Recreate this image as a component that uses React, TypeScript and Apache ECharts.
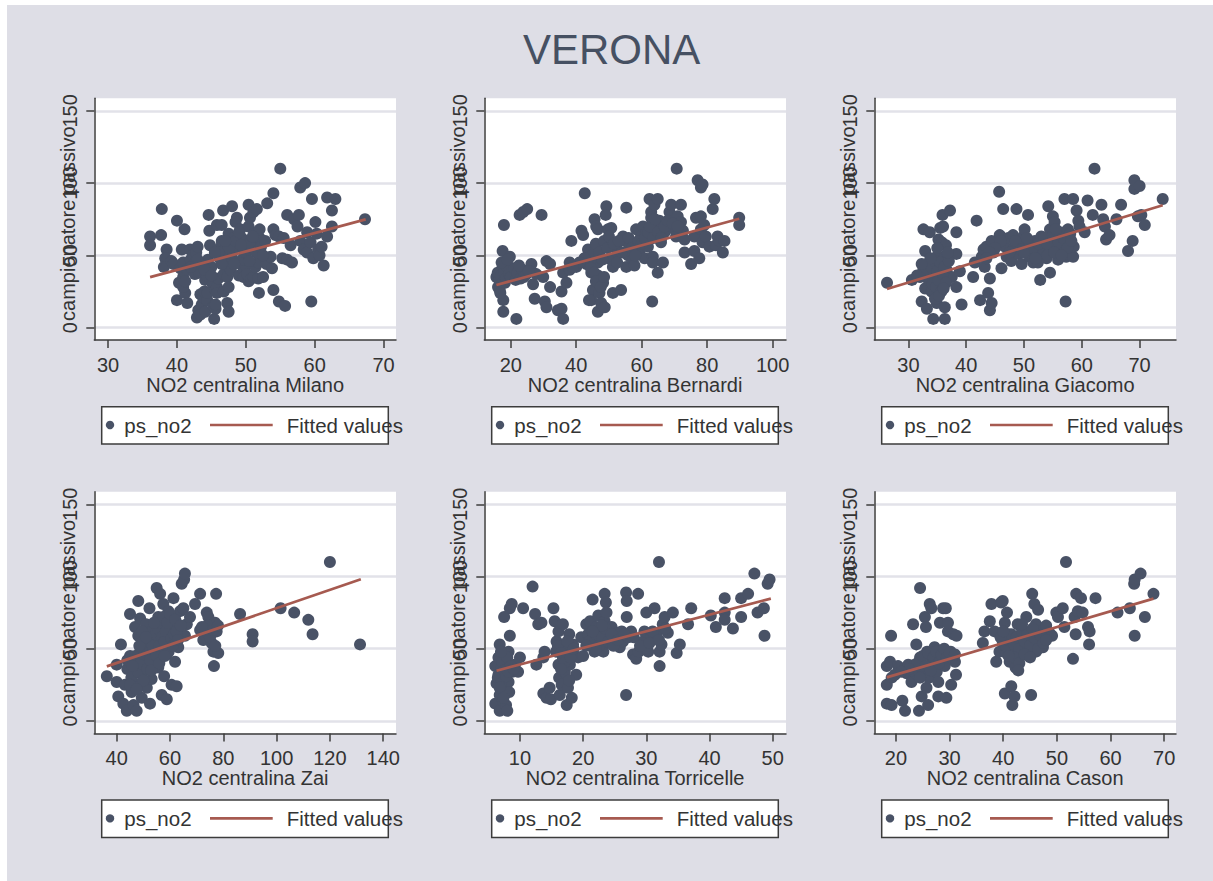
import React, { useEffect, useRef } from "react";
import * as echarts from "echarts";

const CHART_TITLE = "VERONA";
const Y_TITLE = "campionatore passivo";
const POINTS_LABEL = "ps_no2";
const FIT_LABEL = "Fitted values";
const Y_TICKS = [0, 50, 100, 150];

const X_TITLES = [
  "NO2 centralina Milano",
  "NO2 centralina Bernardi",
  "NO2 centralina Giacomo",
  "NO2 centralina Zai",
  "NO2 centralina Torricelle",
  "NO2 centralina Cason",
];

const X_TICKS_MILANO = [30, 40, 50, 60, 70];
const X_TICKS_BERNARDI = [20, 40, 60, 80, 100];
const X_TICKS_GIACOMO = [30, 40, 50, 60, 70];
const X_TICKS_ZAI = [40, 60, 80, 100, 120, 140];
const X_TICKS_TORRICELLE = [10, 20, 30, 40, 50];
const X_TICKS_CASON = [20, 30, 40, 50, 60, 70];

// [NO2 centralina, ps_no2]
const MILANO: number[][] = [
  [36.1,63],[36.1,57],[37.7,64],[37.8,82],[38.5,54],[38.3,48],[38.1,42],[39.2,46],[39.5,44],[40.0,74],[40.0,19],[40.3,31],[40.5,41],
  [41.1,68],[40.7,54],[40.9,45],[40.9,35],[41.2,24],[40.9,28],[41.5,40],[41.2,32],[41.5,17],[41.9,54],[42.0,47],[42.3,50],[42.5,44],
  [42.8,52],[43.0,56],[42.6,37],[43.2,38],[43.4,23],[43.1,12],[42.9,7],[43.4,9],[43.6,16],[43.8,21],[44.0,25],[44.1,33],[44.3,36],
  [44.1,11],[44.4,19],[44.4,24],[44.5,47],[44.8,57],[44.7,67],[44.6,78],[45.0,42],[45.2,30],[45.3,15],[45.4,6],[45.6,13],[45.6,26],
  [45.8,28],[45.8,24],[45.6,16],[46.0,34],[46.2,48],[46.4,56],[46.5,60],[46.7,81],[45.8,71],[46.5,71],[46.8,37],[46.8,25],[47.2,46],
  [47.3,35],[47.5,65],[48.0,84],[47.3,17],[47.5,11],[47.5,28],[47.8,40],[48.0,52],[48.2,58],[48.3,62],[48.7,76],[48.5,73],[48.7,56],
  [48.9,45],[49.0,36],[49.2,68],[49.4,62],[49.6,55],[49.8,50],[49.7,40],[49.7,35],[50.0,43],[50.4,32],[50.2,37],[50.4,70],[50.6,76],
  [50.4,85],[50.8,34],[51.0,58],[51.1,80],[51.2,65],[51.6,82],[51.1,35],[51.8,34],[51.4,42],[51.8,45],[52.0,62],[52.2,56],[52.0,68],
  [52.5,35],[51.9,24],[52.8,60],[53.0,44],[53.1,86],[53.8,41],[53.6,49],[54.0,93],[54.0,68],[54.3,64],[54.0,26],[54.8,63],[54.8,18],
  [55.0,110],[55.3,48],[55.5,62],[55.7,15],[56.0,78],[56.0,47],[56.7,45],[56.5,57],[57.0,75],[57.7,78],[57.5,70],[57.9,60],[58.4,54],
  [58.9,52],[58.9,66],[57.9,97],[58.6,100],[59.4,59],[59.5,18],[59.6,89],[59.8,48],[60.1,73],[60.5,54],[60.7,50],[61.0,56],[60.3,65],
  [61.3,43],[61.8,90],[61.8,63],[62.5,81],[62.5,70],[63.0,89],[67.3,75],
  [47.0,50],[47.5,55],[48.0,48],[48.5,60],[49.0,66],[49.5,47],[50.0,52],[50.5,58],[51.0,63],[51.5,52],[52.5,50],[48.3,44],[46.0,52],
  [47.0,60],[49.3,57],[50.5,46],[43.5,44],[44.0,40],[45.0,36],[46.5,44],[45.5,52],[43.0,47],[42.0,42],
];
const FIT_MILANO: number[][] = [[36.1, 34.9], [67.4, 74.9]];

const BERNARDI: number[][] = [
  [15.6,35],[16.1,28],[16.6,26],[17.2,40],[17.5,53],[17.9,71],[17.7,19],[17.7,11],[18.2,31],[18.7,45],[19.7,49],[20.2,40],[20.7,35],
  [21.7,6],[21.7,39],[22.7,38],[22.7,78],[23.8,80],[25.0,82],[24.8,37],[26.3,44],[26.3,39],[26.8,30],[27.3,20],[27.8,37],[29.4,78],
  [29.9,35],[30.9,46],[30.4,18],[30.9,14],[32.0,44],[32.0,28],[34.4,12],[35.5,13],[36.0,6],[35.5,25],[36.0,38],[37.0,31],[38.0,40],
  [38.5,60],[38.0,45],[40.0,42],[41.6,67],[42.1,64],[42.6,93],[43.1,44],[43.6,54],[44.1,49],[44.6,38],[45.1,26],[44.6,19],[43.9,19],
  [45.6,75],[46.1,70],[46.6,68],[46.1,55],[46.6,45],[46.6,36],[47.1,24],[46.6,11],[47.6,17],[48.2,31],[48.7,14],[49.2,84],[49.0,78],
  [49.7,68],[50.2,56],[50.7,47],[50.7,69],[51.2,42],[51.2,24],[52.2,56],[52.7,52],[53.7,26],[54.3,63],[54.8,60],[55.3,83],[55.3,42],
  [55.8,50],[56.3,56],[57.3,47],[57.8,43],[58.3,68],[58.8,59],[59.3,53],[59.8,63],[60.4,70],[60.9,48],[61.4,66],[61.9,56],[62.4,61],
  [62.4,89],[62.9,80],[62.9,76],[63.2,18],[63.4,49],[63.4,45],[63.9,85],[64.4,70],[64.9,89],[64.9,38],[65.4,74],[65.9,59],[66.5,45],
  [67.0,66],[67.5,73],[68.5,80],[69.0,85],[70.0,68],[70.5,63],[70.7,110],[71.0,77],[72.0,73],[72.0,85],[72.6,67],[73.1,61],[73.1,52],
  [75.1,44],[76.1,53],[76.1,63],[76.6,76],[77.1,102],[77.6,48],[78.1,68],[78.1,77],[78.1,97],[78.6,99],[78.6,59],[79.1,71],[79.6,63],
  [80.7,56],[81.7,82],[82.2,89],[82.7,57],[83.2,63],[83.7,60],[84.8,52],[85.3,60],[89.8,76],[89.8,71],
  [16.0,38],[16.5,33],[17.0,36],[17.5,31],[18.0,38],[18.5,34],[19.0,42],[19.5,37],[20.0,35],[21.0,41],[21.5,33],[22.0,38],[23.0,34],
  [23.5,40],[24.0,35],[16.8,24],[17.2,45],[19.0,47],[22.5,43],[25.5,39],
  [44.0,45],[45.0,50],[46.0,58],[47.0,52],[48.0,47],[48.5,60],[49.5,55],[50.0,63],[51.5,58],[52.5,45],[53.0,60],[54.0,52],[56.0,62],
  [57.0,55],[58.0,50],[59.0,60],[60.0,58],[61.0,62],[62.0,66],[62.5,70],[63.5,62],[64.0,75],[65.0,66],[66.0,62],[67.0,70],[68.0,74],
  [69.5,72],[71.0,70],[44.5,41],[45.5,38],[46.0,32],[47.5,28],[48.5,35],[42.5,48],[41.0,45],[39.0,42],
];
const FIT_BERNARDI: number[][] = [[15.6, 29.5], [89.8, 75.3]];

const GIACOMO: number[][] = [
  [26.3,31],[30.6,33],[32.0,35],[32.3,18],[32.6,68],[32.9,53],[32.6,40],[32.9,27],[33.2,13],[33.7,66],[33.7,45],[34.0,25],[34.3,6],
  [34.6,37],[34.9,17],[34.9,49],[35.2,61],[35.5,69],[35.5,31],[35.8,59],[35.8,44],[35.9,78],[36.0,70],[36.3,6],[36.3,14],[36.5,57],
  [36.3,49],[36.6,40],[36.9,34],[37.2,81],[37.5,35],[38.3,66],[38.3,51],[38.3,28],[38.9,39],[39.2,16],[41.2,35],[41.5,45],[41.8,74],
  [42.4,19],[42.7,49],[43.0,54],[43.2,42],[43.5,56],[43.8,24],[44.1,34],[44.1,12],[44.4,17],[44.4,60],[44.7,52],[45.7,94],[45.8,64],
  [46.1,41],[46.4,82],[46.7,56],[47.0,49],[47.3,62],[47.8,46],[48.1,64],[48.4,56],[48.7,82],[49.0,51],[49.6,44],[49.9,63],[50.1,68],
  [50.1,57],[50.7,78],[51.0,49],[51.6,45],[51.9,60],[52.2,52],[52.4,45],[52.8,33],[53.0,63],[53.3,54],[53.9,48],[54.2,84],[54.5,38],
  [54.5,68],[54.7,54],[55.0,77],[55.3,73],[55.6,61],[55.9,47],[56.2,66],[56.5,56],[57.0,89],[57.2,18],[57.3,49],[57.6,68],[57.9,62],
  [58.5,89],[58.5,49],[58.6,56],[59.1,81],[59.4,74],[59.6,70],[60.5,66],[61.0,88],[61.9,78],[62.2,110],[63.4,85],[63.7,75],[64.0,70],
  [64.2,61],[64.8,64],[66.0,75],[66.8,85],[68.0,53],[68.8,60],[69.1,96],[69.1,102],[70.0,98],[69.7,77],[70.3,78],[70.9,71],[74.0,89],
  [33.0,38],[33.5,33],[34.0,42],[34.2,30],[34.5,46],[34.8,28],[35.0,39],[35.2,33],[35.5,45],[35.7,25],[36.0,37],[36.2,42],[36.5,31],
  [33.8,48],[34.6,20],[35.3,22],[36.1,27],[32.3,44],[31.5,36],[37.0,46],[36.8,52],[35.0,55],
  [47.5,52],[48.5,60],[49.5,54],[50.5,62],[51.5,55],[52.5,58],[53.5,62],[54.0,58],[55.0,64],[55.5,68],[56.0,59],[56.8,62],[57.5,55],
  [58.0,65],[54.0,50],[52.0,48],[50.0,52],[46.0,60],[45.0,55],[44.0,52],[43.5,48],[55.2,52],[56.5,50],[58.2,60],
];
const FIT_GIACOMO: number[][] = [[26.3, 26.7], [74.0, 84.7]];

const ZAI: number[][] = [
  [36.3,31],[40.0,39],[40.0,27],[40.6,17],[41.6,53],[42.5,12],[43.1,25],[43.8,7],[44.0,36],[45.0,74],[45.0,45],[45.6,20],[46.3,11],
  [46.9,65],[46.9,38],[47.5,7],[47.5,25],[48.1,83],[48.1,59],[48.8,71],[48.8,48],[49.4,32],[49.4,16],[50.0,55],[50.3,41],[51.0,67],
  [51.3,23],[51.9,51],[52.3,78],[52.5,12],[53.1,62],[53.1,29],[53.8,44],[54.1,47],[55.0,92],[55.0,56],[55.6,72],[55.6,37],[56.3,88],
  [56.9,60],[56.9,18],[57.3,51],[57.5,81],[57.8,31],[58.1,67],[58.8,15],[58.8,46],[59.4,76],[60.0,55],[60.6,62],[60.6,25],[61.3,85],
  [61.9,67],[61.9,41],[62.5,24],[63.1,51],[63.8,76],[64.4,95],[65.0,78],[65.3,98],[65.6,102],[65.6,59],[66.3,67],[67.5,72],[69.4,81],
  [71.3,88],[71.3,63],[72.5,56],[73.8,75],[74.4,72],[75.0,62],[75.6,54],[76.3,48],[76.5,38],[76.9,68],[77.3,88],[77.5,62],[78.1,47],
  [86.3,74],[91.0,60],[91.0,55],[101.5,78],[106.6,75],[111.9,70],[113.5,60],[120.0,110],[131.3,53],
  [44.0,42],[45.5,30],[47.0,45],[48.0,34],[49.0,40],[50.0,28],[50.5,46],[51.5,36],[52.0,55],[52.5,42],[53.5,52],[54.5,60],[55.0,45],
  [55.5,64],[56.0,52],[56.5,68],[57.0,58],[57.5,72],[58.0,55],[58.5,62],[59.0,68],[59.5,48],[60.0,74],[60.5,57],[61.0,52],[61.5,60],
  [62.0,70],[62.5,62],[63.0,56],[64.0,66],[45.0,25],[46.0,38],[47.5,22],[48.5,52],[49.5,62],[51.0,58],[53.0,35],[54.0,68],[56.0,40],
  [58.0,45],[73.0,60],[74.0,66],[75.0,58],[76.0,63],[77.0,52],[78.0,66],[72.0,65],
];
const FIT_ZAI: number[][] = [[36.3, 37.8], [131.6, 98.1]];

const TORRICELLE: number[][] = [
  [6.1,38],[6.1,12],[6.3,26],[6.6,32],[6.6,44],[6.8,53],[6.8,7],[6.8,18],[7.1,37],[7.1,23],[7.3,14],[7.4,30],[7.5,72],[7.6,46],
  [7.8,11],[7.9,39],[8.0,7],[8.2,48],[8.2,27],[8.3,20],[8.4,59],[8.4,78],[8.7,81],[8.8,34],[9.2,39],[9.7,34],[10.0,44],[10.5,78],
  [12.0,93],[12.4,74],[12.6,39],[12.9,67],[13.4,68],[13.7,44],[13.7,19],[13.9,48],[14.2,16],[14.7,23],[14.9,15],[15.3,78],[15.5,69],
  [15.7,48],[15.8,55],[16.1,62],[16.1,39],[16.2,30],[16.3,18],[16.6,25],[16.8,67],[16.8,44],[17.1,34],[17.4,51],[17.4,11],[17.6,23],
  [17.8,60],[17.9,39],[18.2,16],[18.2,46],[18.4,53],[18.9,32],[19.2,44],[19.7,58],[20.0,45],[20.5,67],[20.8,60],[21.1,69],[21.5,84],
  [21.6,58],[21.8,48],[22.1,65],[22.4,73],[22.6,55],[22.9,62],[23.2,48],[23.4,88],[23.4,69],[23.6,82],[23.7,75],[24.0,60],[24.2,54],
  [24.5,65],[25.0,55],[25.5,61],[25.8,51],[26.1,62],[26.3,55],[26.8,89],[26.9,83],[26.9,72],[26.8,18],[27.1,58],[27.6,62],[27.9,46],
  [28.4,43],[28.7,88],[28.8,48],[29.5,55],[29.7,62],[30.0,75],[30.3,48],[30.8,58],[31.3,78],[31.6,60],[32.0,110],[32.1,38],[32.1,48],
  [32.4,53],[32.6,67],[32.9,72],[33.4,61],[34.2,75],[34.8,47],[35.3,53],[36.6,67],[37.1,78],[40.2,73],[41.0,65],[42.4,85],[42.4,75],
  [42.4,70],[43.7,64],[45.0,72],[45.0,85],[46.1,88],[47.1,102],[47.6,75],[48.6,78],[48.7,59],[49.2,95],[49.5,98],
  [6.5,30],[7.0,26],[7.2,41],[7.5,35],[7.8,31],[8.0,44],[8.5,38],[6.8,23],[7.4,16],[8.2,34],[9.0,36],[7.0,48],
  [16.0,52],[16.5,47],[17.0,40],[17.5,55],[18.0,44],[18.5,50],[16.5,36],[17.8,28],
  [21.0,55],[22.0,60],[22.5,52],[23.0,58],[23.5,64],[24.0,55],[24.5,60],[23.0,66],[22.0,50],[21.5,62],[24.8,52],[25.5,56],[20.5,52],
  [26.5,60],[28.0,58],[29.0,52],[30.5,54],[31.0,62],[33.0,64],[32.0,56],
];
const FIT_TORRICELLE: number[][] = [[6.3, 34.8], [49.7, 84.7]];

const CASON: number[][] = [
  [18.3,38],[18.3,25],[18.3,12],[18.9,41],[19.1,59],[19.2,11],[19.2,30],[19.8,32],[20.4,38],[21.2,14],[21.7,7],[22.0,33],[22.3,39],
  [22.9,27],[23.2,67],[23.5,39],[23.8,53],[24.0,32],[24.3,7],[24.5,92],[24.5,44],[24.8,17],[25.1,34],[25.4,72],[25.6,65],[25.7,23],
  [25.8,48],[26.0,11],[26.2,30],[26.3,81],[26.6,78],[26.6,44],[26.9,39],[27.2,51],[27.6,34],[27.9,27],[27.9,17],[28.2,68],[28.2,48],
  [28.5,43],[28.8,78],[29.1,38],[29.3,78],[29.4,16],[29.7,62],[29.7,68],[30.2,48],[30.3,25],[30.7,60],[31.0,41],[31.2,32],[31.3,59],
  [36.2,54],[36.5,62],[37.5,69],[37.8,81],[38.4,62],[38.7,41],[39.3,48],[39.6,82],[39.9,83],[39.9,55],[40.3,68],[40.3,19],[40.6,47],
  [40.7,75],[40.9,60],[41.2,41],[41.5,51],[41.5,24],[41.7,11],[41.8,55],[42.1,17],[42.3,37],[42.4,47],[42.7,67],[43.0,58],[43.4,53],
  [43.7,46],[44.0,62],[44.3,72],[44.6,55],[44.9,48],[45.2,18],[45.4,88],[45.5,60],[45.8,81],[46.1,67],[46.1,48],[46.5,77],[46.8,55],
  [47.1,62],[47.4,51],[48.0,66],[48.6,61],[49.1,59],[49.9,75],[50.2,72],[51.1,78],[51.4,65],[51.7,110],[53.0,43],[53.3,72],[53.5,60],
  [53.6,88],[53.9,76],[54.5,85],[54.8,75],[55.8,65],[56.1,62],[56.0,53],[57.2,85],[61.3,75],[63.6,78],[64.4,95],[64.5,98],[64.5,59],
  [65.6,102],[66.4,72],[68.0,88],
  [23.0,35],[24.0,40],[25.0,45],[25.5,38],[26.0,47],[26.5,35],[27.0,44],[27.5,48],[28.0,40],[28.5,46],[29.0,50],[29.5,44],[30.0,47],
  [31.0,46],[24.5,30],[22.5,36],[21.0,34],
  [40.5,52],[41.0,56],[41.5,60],[42.0,53],[42.5,58],[43.0,50],[43.5,62],[44.0,55],[44.5,60],[45.0,52],[45.5,64],[46.0,57],[46.5,50],
  [47.0,59],[47.5,54],[48.0,56],[42.0,44],[43.0,40],[41.0,45],[44.0,46],[45.0,44],[39.5,58],[40.0,62],[42.8,35],[43.5,67],
];
const FIT_CASON: number[][] = [[18.3, 30.2], [68.0, 84.7]];

const FONT = "'Liberation Sans', Arial, Helvetica, sans-serif";
const BG = "#dedee6";
const GRID_LINE = "#e2e2e9";
const AXIS_COLOR = "#3c3c3c";
const TEXT_COLOR = "#333333";
const TITLE_COLOR = "#465062";
const DOT_COLOR = "#495266";
const FIT_COLOR = "#a65a50";

const PANELS = [
  { points: MILANO, fit: FIT_MILANO, ticks: X_TICKS_MILANO, min: 28.0, max: 71.8 },
  { points: BERNARDI, fit: FIT_BERNARDI, ticks: X_TICKS_BERNARDI, min: 11.9, max: 104.1 },
  { points: GIACOMO, fit: FIT_GIACOMO, ticks: X_TICKS_GIACOMO, min: 24.1, max: 76.3 },
  { points: ZAI, fit: FIT_ZAI, ticks: X_TICKS_ZAI, min: 31.6, max: 144.8 },
  { points: TORRICELLE, fit: FIT_TORRICELLE, ticks: X_TICKS_TORRICELLE, min: 4.36, max: 52.1 },
  { points: CASON, fit: FIT_CASON, ticks: X_TICKS_CASON, min: 15.97, max: 72.2 },
];

const COL_LEFT = [87.3, 477.3, 867.3];
const ROW_TOP = [93.3, 486.7];
const PLOT_W = 301.7;
const PLOT_H = 241.7;

export default function App() {
  const ref = useRef<HTMLDivElement>(null);
  useEffect(() => {
    if (!ref.current) return;
    const chart = echarts.init(ref.current, undefined, { renderer: "svg" });
    const grids: any[] = [];
    const xAxes: any[] = [];
    const yAxes: any[] = [];
    const series: any[] = [];
    const graphics: any[] = [];

    graphics.push({
      type: "text",
      x: 604.7,
      y: 44,
      style: {
        text: CHART_TITLE,
        fontSize: 42,
        fontFamily: FONT,
        fill: TITLE_COLOR,
        align: "center",
        verticalAlign: "middle",
      },
    });

    PANELS.forEach((p, i) => {
      const col = i % 3;
      const row = Math.floor(i / 3);
      const left = COL_LEFT[col];
      const top = ROW_TOP[row];
      grids.push({
        left,
        top,
        width: PLOT_W,
        height: PLOT_H,
        show: true,
        backgroundColor: "#ffffff",
        borderWidth: 0,
        containLabel: false,
        outerBoundsMode: "none",
      });
      xAxes.push({
        gridIndex: i,
        type: "value",
        min: p.min,
        max: p.max,
        axisLine: { show: true, onZero: false, lineStyle: { color: AXIS_COLOR, width: 1.5 } },
        axisTick: { show: true, customValues: p.ticks, length: 8, lineStyle: { color: AXIS_COLOR, width: 1.5 } },
        axisLabel: {
          show: true,
          customValues: p.ticks,
          fontSize: 20,
          lineHeight: 18,
          fontFamily: FONT,
          color: TEXT_COLOR,
          margin: 16,
        },
        splitLine: { show: false },
        name: X_TITLES[i],
        nameLocation: "middle",
        nameGap: 36,
        nameMoveOverlap: false,
        nameTextStyle: { fontSize: 20, lineHeight: 18, fontFamily: FONT, color: TEXT_COLOR },
      });
      yAxes.push({
        gridIndex: i,
        type: "value",
        min: -8.6,
        max: 158.7,
        axisLine: { show: true, onZero: false, lineStyle: { color: AXIS_COLOR, width: 1.5 } },
        axisTick: { show: true, customValues: Y_TICKS, length: 8, lineStyle: { color: AXIS_COLOR, width: 1.5 } },
        axisLabel: { show: false, customValues: Y_TICKS },
        splitLine: { show: true, lineStyle: { color: GRID_LINE, width: 2.5 } },
        name: Y_TITLE,
        nameLocation: "middle",
        nameRotate: 90,
        nameGap: 16,
        nameMoveOverlap: false,
        nameTextStyle: { fontSize: 20, fontFamily: FONT, color: TEXT_COLOR, padding: [0, 9, 0, 0] },
      });
      series.push({
        type: "scatter",
        name: POINTS_LABEL,
        xAxisIndex: i,
        yAxisIndex: i,
        data: p.points,
        symbol: "circle",
        symbolSize: 12,
        itemStyle: { color: DOT_COLOR, opacity: 1 },
        silent: true,
        z: 2,
      });
      series.push({
        type: "line",
        name: FIT_LABEL,
        xAxisIndex: i,
        yAxisIndex: i,
        data: p.fit,
        symbol: "none",
        showSymbol: false,
        lineStyle: { color: FIT_COLOR, width: 2.7 },
        silent: true,
        z: 3,
      });

      const legLeft = left + 7.4;
      const legTop = top + PLOT_H + 66.7;
      const midY = legTop + 18.3;
      graphics.push(
        {
          type: "rect",
          shape: { x: legLeft, y: legTop, width: 286.6, height: 37.3 },
          style: { fill: "#ffffff", stroke: AXIS_COLOR, lineWidth: 1.5 },
        },
        {
          type: "circle",
          shape: { cx: legLeft + 8.3, cy: midY, r: 4.2 },
          style: { fill: DOT_COLOR },
        },
        {
          type: "text",
          x: legLeft + 22.6,
          y: midY,
          style: { text: POINTS_LABEL, fontSize: 20.5, fontFamily: FONT, fill: TEXT_COLOR, align: "left", verticalAlign: "middle" },
        },
        {
          type: "line",
          shape: { x1: legLeft + 108.3, y1: midY, x2: legLeft + 171, y2: midY },
          style: { stroke: FIT_COLOR, lineWidth: 2.7 },
        },
        {
          type: "text",
          x: legLeft + 185,
          y: midY,
          style: { text: FIT_LABEL, fontSize: 20.5, fontFamily: FONT, fill: TEXT_COLOR, align: "left", verticalAlign: "middle" },
        }
      );
    });

    chart.setOption({
      animation: false,
      backgroundColor: BG,
      grid: grids,
      xAxis: xAxes,
      yAxis: yAxes,
      series,
      graphic: graphics,
    });

    // rotated y tick labels, positioned through the axis scale
    PANELS.forEach((_p, i) => {
      const col = i % 3;
      const left = COL_LEFT[col];
      Y_TICKS.forEach((v) => {
        const py = chart.convertToPixel({ yAxisIndex: i } as any, v) as unknown as number;
        graphics.push({
          type: "text",
          x: left - 24.5,
          y: py,
          rotation: Math.PI / 2,
          style: {
            text: String(v),
            fontSize: 20,
            fontFamily: FONT,
            fill: TEXT_COLOR,
            align: "center",
            verticalAlign: "middle",
          },
        });
      });
    });
    chart.setOption({ graphic: graphics });

    return () => chart.dispose();
  }, []);
  return (
    <div
      ref={ref}
      style={{ position: "absolute", left: 7, top: 5, width: 1206, height: 876, background: BG }}
    />
  );
}
